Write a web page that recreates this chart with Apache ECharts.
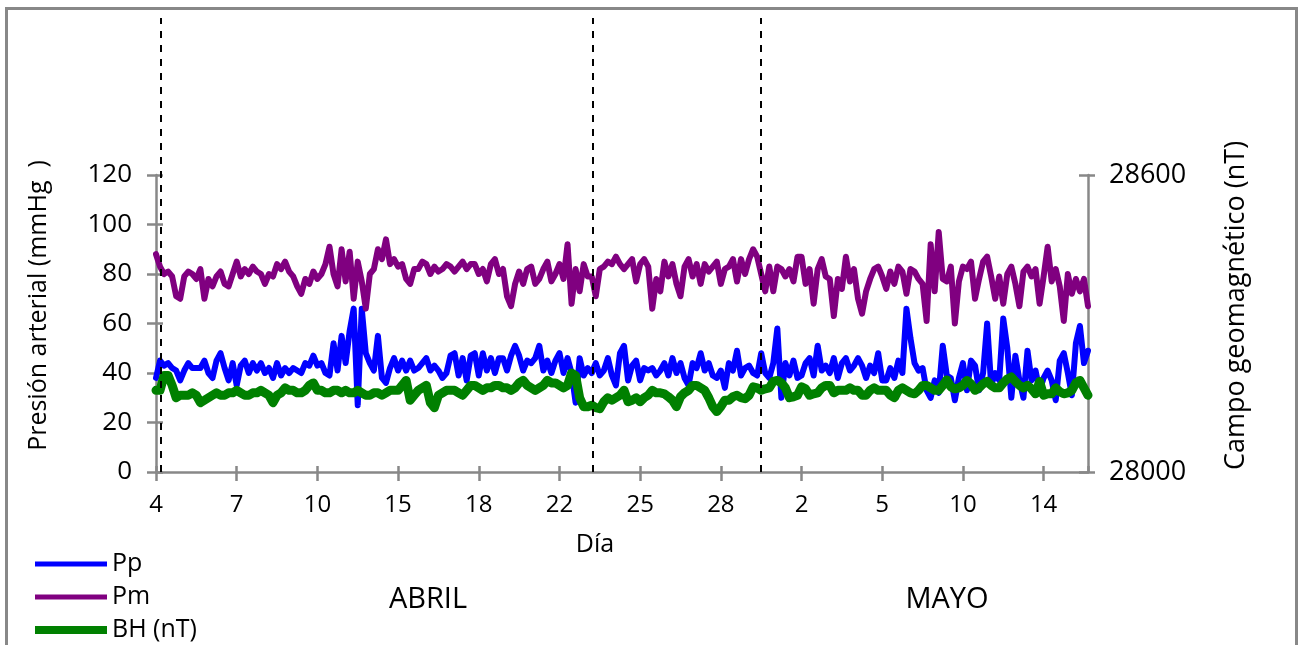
<!DOCTYPE html>
<html>
<head>
<meta charset="utf-8">
<script src="https://cdn.jsdelivr.net/npm/echarts@6/dist/echarts.min.js"></script>
<style>
  html, body { margin: 0; padding: 0; background: #fff; }
  #frame { position: absolute; left: 5px; top: 7px; width: 1287px; height: 700px; border: 3px solid #888; }
  #chart { position: absolute; left: 0; top: 0; width: 1304px; height: 645px; }
</style>
</head>
<body>
<div id="frame"></div>
<div id="chart"></div>
<script>
// Day labels along the time axis (one every 20 readings)
const dayLabels = ['4', '7', '10', '15', '18', '22', '25', '28', '2', '5', '10', '14'];
const monthNames = ['ABRIL', 'MAYO'];

// Pulse pressure Pp (mmHg)
const pp = [
  38,45,43,44,42,41,37,41,44,42,
  42,42,45,40,38,45,48,42,37,44,
  35,43,45,40,44,41,44,40,42,38,
  44,39,42,40,42,41,40,44,43,47,
  43,44,40,39,52,41,55,44,57,66,
  27,66,48,44,41,55,38,36,42,
  46,41,45,41,45,41,42,44,46,41,
  43,41,38,40,47,48,39,46,37,47,
  48,39,48,41,46,40,46,46,41,47,
  51,47,41,45,44,46,51,41,45,40,
  45,48,40,46,40,28,46,39,42,40,
  44,39,41,46,39,35,48,51,
  37,43,45,37,42,41,42,39,41,44,
  39,46,40,44,38,35,44,42,48,41,
  44,39,38,41,34,44,41,49,39,42,
  43,40,39,48,40,38,44,58,30,44,
  39,45,38,39,44,46,39,51,41,43,
  40,46,38,44,46,41,43,46,
  43,38,43,40,48,37,37,42,38,45,
  40,66,54,44,41,42,33,30,37,32,
  51,39,38,29,38,44,33,45,43,33,
  40,60,35,40,37,62,50,30,47,37,
  30,49,37,41,33,38,41,37,29,45,
  48,40,31,52,59,44,49
];

// Mean pressure Pm (mmHg)
const pm = [
  88,83,80,81,79,71,70,79,81,80,
  78,82,70,78,75,79,81,76,75,80,
  85,79,82,80,83,81,80,76,80,79,
  84,82,85,81,79,75,72,78,76,81,
  78,80,84,91,80,75,90,77,89,70,
  85,77,66,80,82,90,86,94,84,
  86,83,84,78,76,82,82,85,84,80,
  83,81,82,84,83,81,83,85,82,84,
  84,80,82,77,84,86,80,82,71,67,
  76,81,76,82,83,76,78,82,85,77,
  80,84,78,92,68,82,73,84,79,79,
  71,82,83,85,84,87,84,82,
  84,86,77,84,86,83,66,78,73,85,
  79,84,76,71,83,86,79,84,76,84,
  81,83,85,76,82,83,86,77,86,80,
  86,90,87,80,73,83,73,83,82,79,
  82,77,87,87,76,82,68,82,86,79,
  78,63,78,74,87,77,82,70,
  64,73,78,82,83,79,74,81,76,83,
  81,72,82,81,78,76,61,92,73,97,
  78,77,83,60,77,83,82,85,70,78,
  85,87,79,70,79,68,80,83,76,67,
  81,83,79,82,68,79,91,77,82,75,
  61,80,72,78,73,78,67
];

// Horizontal geomagnetic component BH (nT)
const bh = [
  28165,28165,28195,28195,28175,28150,28155,28155,28155,28160,
  28155,28140,28145,28150,28155,28160,28155,28155,28160,28160,
  28165,28160,28155,28155,28160,28160,28165,28160,28155,28140,
  28155,28160,28170,28165,28165,28160,28160,28165,28175,28180,
  28165,28165,28160,28160,28165,28165,28160,28165,28160,28160,
  28165,28160,28155,28155,28160,28160,28155,28160,28165,
  28165,28165,28175,28185,28145,28155,28165,28170,28175,28140,
  28130,28155,28160,28165,28165,28165,28160,28155,28165,28175,
  28175,28170,28165,28170,28170,28175,28175,28170,28170,28165,
  28170,28180,28185,28175,28170,28165,28170,28175,28185,28180,
  28180,28175,28170,28175,28200,28195,28150,28132,28132,28135,
  28130,28128,28142,28150,28145,28150,28155,28165,
  28142,28145,28150,28142,28150,28155,28165,28160,28160,28158,
  28152,28145,28132,28152,28160,28165,28175,28175,28170,28165,
  28150,28132,28122,28132,28145,28145,28152,28155,28150,28148,
  28155,28172,28170,28165,28168,28170,28183,28185,28180,28170,
  28150,28152,28155,28172,28168,28155,28158,28160,28170,28175,
  28175,28160,28165,28165,28165,28170,28165,28165,
  28155,28155,28165,28170,28165,28165,28165,28155,28150,28165,
  28170,28165,28160,28158,28165,28175,28175,28170,28165,28165,
  28175,28186,28172,28168,28170,28175,28185,28178,28165,28170,
  28178,28183,28175,28170,28170,28180,28188,28192,28183,28175,
  28170,28175,28168,28158,28183,28155,28158,28158,28170,28162,
  28158,28160,28165,28180,28185,28170,28155
];

// Reading positions of the dashed reference lines
const eventMarks = [1.1, 108.2, 149.9];

const FONT = '"Open Sans", "Noto Sans", sans-serif';
const AXIS_GRAY = '#888';
const lastIndex = pp.length - 1;
const toPairs = arr => arr.map((v, i) => [i, v]);

const axisLineStyle = { color: AXIS_GRAY, width: 2.5 };

const option = {
  animation: false,
  backgroundColor: 'transparent',
  grid: [
    { left: 156, right: 216, top: 175, bottom: 173, outerBoundsMode: 'none', containLabel: false },
    { left: 156, right: 216, top: 18, bottom: 173, outerBoundsMode: 'none', containLabel: false }
  ],
  xAxis: [
    {
      gridIndex: 0, type: 'value', position: 'bottom',
      min: 0, max: lastIndex, interval: 20,
      name: 'Día', nameLocation: 'middle', nameGap: 58,
      nameTextStyle: { fontFamily: FONT, fontSize: 25, color: '#000', lineHeight: 30, padding: [0, 54, 0, 0] },
      axisLine: { show: true, onZero: false, lineStyle: axisLineStyle },
      axisTick: { show: true, inside: false, length: 9, lineStyle: axisLineStyle },
      axisLabel: {
        show: true, margin: 21, fontFamily: FONT, fontSize: 24, color: '#000',
        showMaxLabel: false,
        formatter: v => (v % 20 === 0 && dayLabels[v / 20] !== undefined) ? dayLabels[v / 20] : ''
      },
      splitLine: { show: false }
    },
    {
      gridIndex: 0, type: 'value', position: 'bottom',
      min: 0, max: lastIndex, interval: 20,
      axisLine: { show: false, onZero: false },
      axisTick: { show: true, inside: true, length: 6, lineStyle: axisLineStyle },
      axisLabel: { show: false },
      splitLine: { show: false }
    },
    {
      gridIndex: 1, type: 'value', min: 0, max: lastIndex, show: false,
      axisLine: { onZero: false },
      splitLine: { show: false }
    }
  ],
  yAxis: [
    {
      gridIndex: 0, type: 'value', position: 'left',
      min: 0, max: 120, interval: 20,
      name: 'Presión arterial (mmHg  )', nameLocation: 'middle', nameRotate: 90, nameGap: 102,
      nameTextStyle: { fontFamily: FONT, fontSize: 25, color: '#000', lineHeight: 30, padding: [0, 0, 0, 36] },
      axisLine: { show: true, onZero: false, lineStyle: axisLineStyle },
      axisTick: { show: true, inside: false, length: 9, lineStyle: axisLineStyle },
      axisLabel: { show: true, margin: 24, fontFamily: FONT, fontSize: 26, color: '#000' },
      splitLine: { show: false }
    },
    {
      gridIndex: 0, type: 'value', position: 'right',
      min: 28000, max: 28600, interval: 600,
      name: 'Campo geomagnético (nT)', nameLocation: 'middle', nameRotate: 90, nameGap: 133,
      nameTextStyle: { fontFamily: FONT, fontSize: 27, color: '#000', lineHeight: 30, padding: [0, 0, 0, 36] },
      axisLine: { show: true, onZero: false, lineStyle: axisLineStyle },
      axisTick: { show: true, inside: false, length: 7, lineStyle: axisLineStyle },
      axisLabel: { show: true, margin: 21, fontFamily: FONT, fontSize: 27, color: '#000', formatter: v => String(v) },
      splitLine: { show: false }
    },
    {
      gridIndex: 0, type: 'value', position: 'left',
      min: 0, max: 120, interval: 20,
      axisLine: { show: false, onZero: false },
      axisTick: { show: true, inside: true, length: 7, lineStyle: axisLineStyle },
      axisLabel: { show: false },
      splitLine: { show: false }
    },
    {
      gridIndex: 0, type: 'value', position: 'right',
      min: 28000, max: 28600, interval: 600,
      axisLine: { show: false, onZero: false },
      axisTick: { show: true, inside: true, length: 9, lineStyle: axisLineStyle },
      axisLabel: { show: false },
      splitLine: { show: false }
    },
    {
      gridIndex: 1, type: 'value', min: 0, max: 1, show: false,
      axisLine: { onZero: false },
      splitLine: { show: false }
    }
  ],
  legend: {
    orient: 'vertical', left: 35, top: 550, padding: 0,
    itemWidth: 72, itemHeight: 14, itemGap: 5, symbolKeepAspect: true,
    textStyle: { fontFamily: FONT, fontSize: 25, color: '#000', lineHeight: 28 },
    data: [
      { name: 'Pp', icon: 'path://M0 0H72V5H0Z' },
      { name: 'Pm', icon: 'path://M0 0H72V5H0Z' },
      { name: 'BH (nT)', icon: 'path://M0 0H72V8H0Z' }
    ]
  },
  graphic: [
    { type: 'text', z: 10, style: { text: monthNames[0], x: 428, y: 600, align: 'center', verticalAlign: 'middle', font: '29px ' + FONT, fill: '#000' } },
    { type: 'text', z: 10, style: { text: monthNames[1], x: 947, y: 600, align: 'center', verticalAlign: 'middle', font: '29px ' + FONT, fill: '#000' } }
  ],
  series: [
    {
      name: 'Pp', type: 'line', xAxisIndex: 0, yAxisIndex: 0, z: 2,
      data: toPairs(pp), symbol: 'none', showSymbol: false,
      lineStyle: { color: '#0000ff', width: 6, join: 'round', cap: 'round' },
      itemStyle: { color: '#0000ff' }
    },
    {
      name: 'Pm', type: 'line', xAxisIndex: 0, yAxisIndex: 0, z: 2,
      data: toPairs(pm), symbol: 'none', showSymbol: false,
      lineStyle: { color: '#800080', width: 6, join: 'round', cap: 'round' },
      itemStyle: { color: '#800080' }
    },
    {
      name: 'BH (nT)', type: 'line', xAxisIndex: 0, yAxisIndex: 1, z: 3,
      data: toPairs(bh), symbol: 'none', showSymbol: false,
      lineStyle: { color: '#008000', width: 9, join: 'round', cap: 'round' },
      itemStyle: { color: '#008000' }
    },
    {
      name: 'marcas', type: 'line', xAxisIndex: 2, yAxisIndex: 4, z: 6,
      data: [], symbol: 'none', silent: true,
      markLine: {
        silent: true, symbol: 'none', animation: false,
        label: { show: false },
        lineStyle: { color: '#000', width: 2, type: [7, 7] },
        data: eventMarks.map(x => ({ xAxis: x }))
      }
    }
  ]
};

const chart = echarts.init(document.getElementById('chart'), null, { renderer: 'canvas' });
chart.setOption(option);
</script>
</body>
</html>
